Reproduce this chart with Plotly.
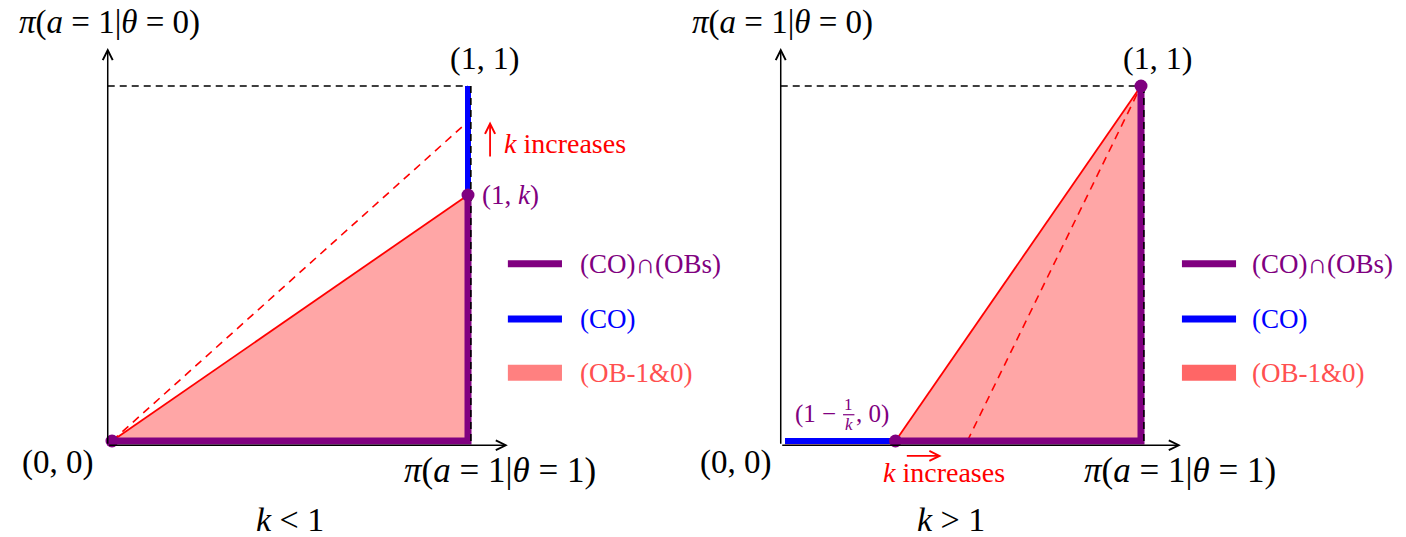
import plotly.graph_objects as go

# ---- values for the two cases --------------------------------------------
k_low = 0.693            # case k < 1: corner point (1, k)
k_low_larger = 0.90      # same case after k increases (dashed)
k_high = 1.45            # case k > 1: corner point (1 - 1/k, 0)
k_high_larger = 2.05     # same case after k increases (dashed)

corner_high = 1 - 1 / k_high
corner_high_larger = 1 - 1 / k_high_larger

legend_labels = ["(CO)∩(OBs)", "(CO)", "(OB-1&0)"]
legend_rows = [0.499, 0.344, 0.192]

# ---- style ---------------------------------------------------------------
PURPLE = "#800080"
BLUE = "#0000ff"
RED = "#ff0000"
FILL = "#ffa6a6"
FONT = "Liberation Serif"
AX_OFF = -0.012          # axis lines sit just outside the origin
AX_END_X = 1.112
AX_END_Y = 1.107
DASH_OFF = 0.008

W, H = 1406, 537
fig = go.Figure()


def line(xs, ys, color, width, ax, dash=None, **kw):
    fig.add_trace(go.Scatter(
        x=xs, y=ys, mode="lines", xaxis=ax[0], yaxis=ax[1],
        line=dict(color=color, width=width, dash=dash),
        hoverinfo="skip", showlegend=False, **kw))


def dots(xs, ys, ax):
    fig.add_trace(go.Scatter(
        x=xs, y=ys, mode="markers", xaxis=ax[0], yaxis=ax[1],
        marker=dict(color=PURPLE, size=13, line=dict(width=0)),
        hoverinfo="skip", showlegend=False))


L = ("x", "y")
R = ("x2", "y2")

# ---- left panel: k < 1 ---------------------------------------------------
line([0, 1, 1, 0], [0, 0, k_low, 0], FILL, 0, L, fill="toself", fillcolor=FILL)
line([AX_OFF, 1], [1, 1], "black", 1.6, L, dash="7px,5px")
line([0, 1], [0, k_low_larger], RED, 1.6, L, dash="8px,6px")
line([0, 1], [0, k_low], RED, 1.8, L)
line([0, 1, 1], [0, 0, k_low], PURPLE, 7, L)
line([1, 1], [k_low, 1], BLUE, 6, L)
line([1 + DASH_OFF, 1 + DASH_OFF], [0, 1], "black", 1.6, L, dash="7px,5px")
dots([0, 1], [0, k_low], L)

# ---- right panel: k > 1 --------------------------------------------------
line([corner_high, 1, 1, corner_high], [0, 0, 1, 0], FILL, 0, R,
     fill="toself", fillcolor=FILL)
line([AX_OFF, 1], [1, 1], "black", 1.6, R, dash="7px,5px")
line([corner_high_larger, 1], [0, 1], RED, 1.6, R, dash="8px,6px")
line([corner_high, 1], [0, 1], RED, 1.8, R)
line([0, corner_high], [-0.006, -0.006], RED, 2, R)
line([0, corner_high], [0, 0], BLUE, 6, R)
line([corner_high, 1, 1], [0, 0, 1], PURPLE, 7, R)
line([1 + DASH_OFF, 1 + DASH_OFF], [0, 1], "black", 1.6, R, dash="7px,5px")
dots([corner_high, 1], [0, 1], R)

# ---- legends beside each panel -------------------------------------------
legend_colors = [PURPLE, BLUE, "#ff8080"]
legend_colors_r = [PURPLE, BLUE, "#ff6666"]
legend_text_colors = [PURPLE, BLUE, "#ff5050"]
legend_widths = [7, 7, 16]
for ax, x0, x1, cols in [(L, 1.112, 1.264, legend_colors),
                         (R, 1.115, 1.267, legend_colors_r)]:
    for row, col, wid in zip(legend_rows, cols, legend_widths):
        line([x0, x1], [row, row], col, wid, ax)

annotations = []


def text(x, y, s, ax, size=32, color="black", anchor="center"):
    annotations.append(dict(
        x=x, y=y, xref=ax[0], yref=ax[1], text=s, showarrow=False,
        xanchor=anchor, yanchor="middle",
        font=dict(family=FONT, size=size, color=color)))


def arrow(x0, y0, x1, y1, ax, color="black", width=1.5, size=1.3):
    annotations.append(dict(
        x=x1, y=y1, ax=x0, ay=y0, xref=ax[0], yref=ax[1],
        axref=ax[0], ayref=ax[1], text="", showarrow=True,
        arrowhead=5, arrowsize=size, arrowwidth=width, arrowcolor=color,
        standoff=0, startstandoff=0))


for ax, x0 in [(L, 1.309), (R, 1.306)]:
    for row, lab, col in zip(legend_rows, legend_labels, legend_text_colors):
        text(x0, row, lab, ax, size=27, color=col, anchor="left")

    # axes with arrow tips
    arrow(AX_OFF, AX_OFF, AX_END_X, AX_OFF, ax)
    arrow(AX_OFF, AX_OFF, AX_OFF, AX_END_Y, ax)

y_label = "<i>π</i>(<i>a</i> = 1|<i>θ</i> = 0)"
x_label = "<i>π</i>(<i>a</i> = 1|<i>θ</i> = 1)"

# left panel texts
text(-0.008, 1.18, y_label, L, size=33)
text(1.09, -0.082, x_label, L, size=35)
text(-0.154, -0.06, "(0, 0)", L, size=33)
text(1.045, 1.079, "(1, 1)", L)
text(1.034, 0.693, "(1, <i>k</i>)", L, size=27, color=PURPLE, anchor="left")
arrow(1.062, 0.797, 1.062, 0.9, L, color=RED, width=1.8, size=1.1)
text(1.095, 0.839, "<i>k</i> increases", L, size=28, color=RED, anchor="left")
text(0.5, -0.222, "<i>k</i> &lt; 1", L, size=34)

# right panel texts
text(-0.008, 1.18, y_label, R, size=33)
text(1.109, -0.082, x_label, R, size=35)
text(-0.14, -0.06, "(0, 0)", R, size=33)
text(1.045, 1.079, "(1, 1)", R)
text(0.085, 0.076, "(1 −", R, size=25, color=PURPLE)
text(0.179, 0.103, "1", R, size=17, color=PURPLE)
text(0.179, 0.047, "<i>k</i>", R, size=17, color=PURPLE)
line([0.163, 0.195], [0.074, 0.074], PURPLE, 1.2, R)
text(0.245, 0.076, ", 0)", R, size=25, color=PURPLE)
arrow(0.338, -0.042, 0.44, -0.042, R, color=RED, width=1.8, size=1.1)
text(0.27, -0.09, "<i>k</i> increases", R, size=28, color=RED, anchor="left")
text(0.466, -0.222, "<i>k</i> &gt; 1", R, size=34)

# ---- axes mapped so that data units land on fixed pixel positions ----------
px_per_x = 356.0
px_per_y = 355.0
left_origin_px = 112
right_origin_px = 785
base_px = 441
half = W / 2

hidden = dict(visible=False, showgrid=False, zeroline=False, fixedrange=True)
fig.update_layout(
    width=W, height=H,
    margin=dict(l=0, r=0, t=0, b=0),
    paper_bgcolor="white", plot_bgcolor="white",
    xaxis=dict(domain=[0, 0.5],
               range=[-left_origin_px / px_per_x,
                      (half - left_origin_px) / px_per_x], **hidden),
    yaxis=dict(domain=[0, 1],
               range=[(base_px - H) / px_per_y, base_px / px_per_y], **hidden),
    xaxis2=dict(domain=[0.5, 1], anchor="y2",
                range=[(half - right_origin_px) / px_per_x,
                       (W - right_origin_px) / px_per_x], **hidden),
    yaxis2=dict(domain=[0, 1], anchor="x2",
                range=[(base_px - H) / px_per_y, base_px / px_per_y], **hidden),
    annotations=annotations,
    showlegend=False,
)

fig.write_html("out.html")
